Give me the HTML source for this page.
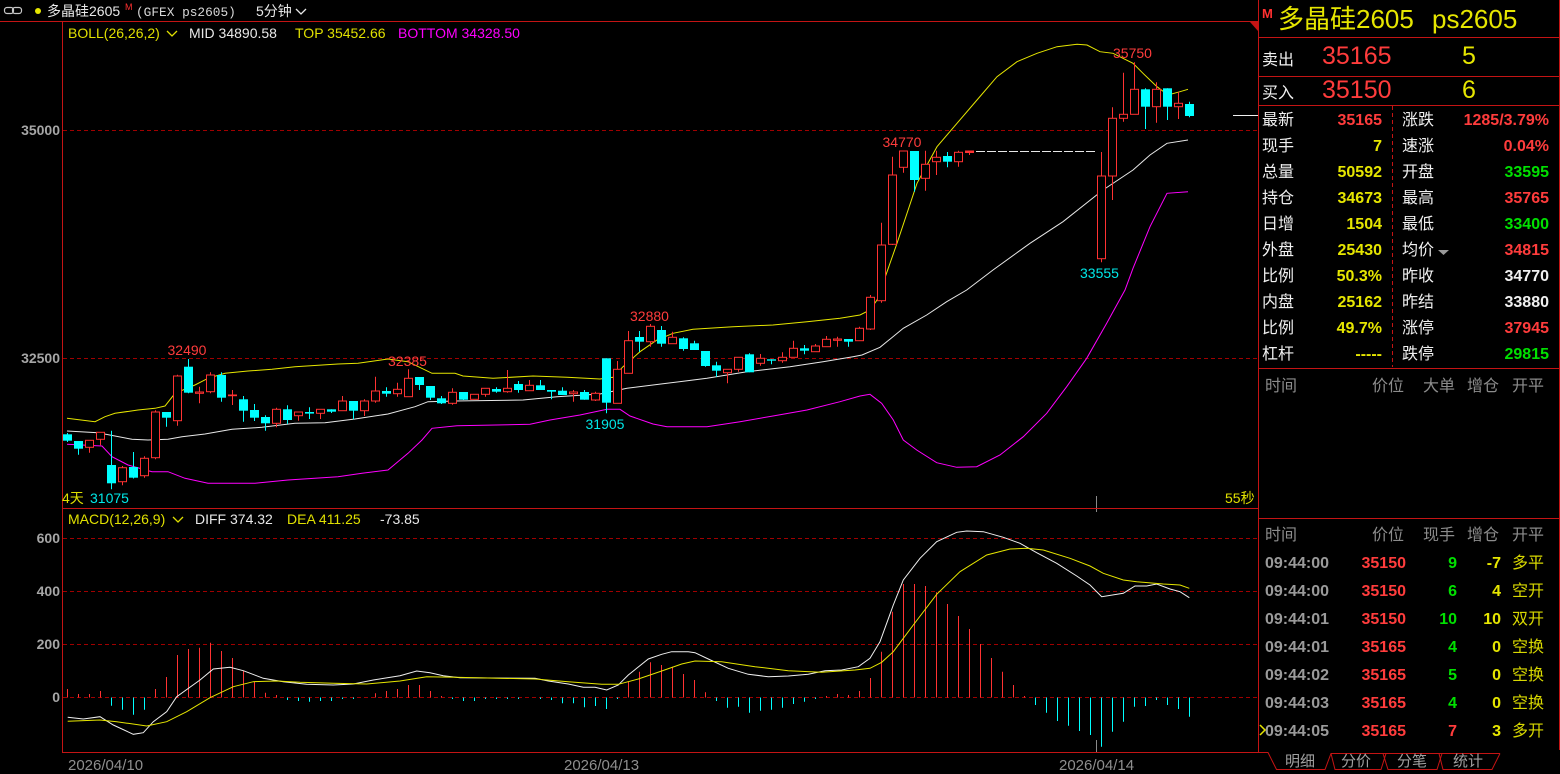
<!DOCTYPE html>
<html><head><meta charset="utf-8">
<style>
html,body{margin:0;padding:0;background:#000;width:1560px;height:774px;overflow:hidden;}
svg{display:block;}
text{font-family:"Liberation Sans","Noto Sans CJK SC",sans-serif;}
.mono{font-family:"Liberation Mono","Noto Sans CJK SC",monospace;}
</style></head><body>
<svg width="1560" height="774" viewBox="0 0 1560 774" xmlns="http://www.w3.org/2000/svg">
<rect width="1560" height="774" fill="#000"/>

<!-- ===== Header ===== -->
<g fill="none" stroke="#c8c8c8" stroke-width="1.2">
<rect x="4.5" y="7.5" width="9" height="6" rx="2.5"/>
<rect x="12.5" y="7.5" width="9" height="6" rx="2.5"/>
</g>
<circle cx="38" cy="11" r="3" fill="#e6e600"/>
<text x="47" y="16" font-size="14" fill="#e8e8e8">多晶硅2605</text>
<text x="125" y="10" font-size="9" fill="#ff3030">M</text>
<text x="136" y="16" font-size="12.8" fill="#d8d8d8" class="mono">(GFEX ps2605)</text>
<text x="256" y="16" font-size="14" fill="#e8e8e8">5分钟</text>
<polyline points="296,9 301,14 306,9" fill="none" stroke="#e8e8e8" stroke-width="1.3"/>

<!-- chart frame -->
<g stroke="#c41414" stroke-width="1" fill="none">
<line x1="0" y1="21.5" x2="1259" y2="21.5"/>
<line x1="62.5" y1="21" x2="62.5" y2="753"/>
<line x1="62" y1="508.5" x2="1259" y2="508.5"/>
<line x1="62" y1="752.5" x2="1259" y2="752.5"/>
<line x1="1258.5" y1="0" x2="1258.5" y2="753"/>
<line x1="1559.5" y1="0" x2="1559.5" y2="750"/>
</g>
<polygon points="1250,22 1258,22 1258,31" fill="#c41414"/>

<!-- grid dashed -->
<g stroke="#a00000" stroke-width="1" stroke-dasharray="4,3">
<line x1="63" y1="130.5" x2="1258" y2="130.5"/>
<line x1="63" y1="358.5" x2="1258" y2="358.5"/>
<line x1="63" y1="538.5" x2="1258" y2="538.5"/>
<line x1="63" y1="591.5" x2="1258" y2="591.5"/>
<line x1="63" y1="644.5" x2="1258" y2="644.5"/>
<line x1="63" y1="697.5" x2="1258" y2="697.5"/>
</g>

<!-- axis labels -->
<g font-size="14" font-weight="bold" fill="#a6a6a6" text-anchor="end">
<text x="60" y="135">35000</text>
<text x="60" y="363">32500</text>
<text x="60" y="543">600</text>
<text x="60" y="596">400</text>
<text x="60" y="649">200</text>
<text x="60" y="702">0</text>
</g>
<g font-size="15" fill="#8e8e8e">
<text x="68" y="770">2026/04/10</text>
<text x="564" y="770">2026/04/13</text>
<text x="1059" y="770">2026/04/14</text>
</g>

<!-- BOLL header -->
<text x="68" y="38" font-size="14" fill="#e0e000">BOLL(26,26,2)</text>
<polyline points="167,31 172,36 177,31" fill="none" stroke="#e0e000" stroke-width="1.3"/>
<text x="189" y="38" font-size="14" fill="#e8e8e8">MID 34890.58</text>
<text x="295" y="38" font-size="14" fill="#e0e000">TOP 35452.66</text>
<text x="398" y="38" font-size="14" fill="#ff00ff">BOTTOM 34328.50</text>

<!-- MACD header -->
<text x="68" y="524" font-size="14" fill="#e0e000">MACD(12,26,9)</text>
<polyline points="173,517 178,522 183,517" fill="none" stroke="#e0e000" stroke-width="1.3"/>
<text x="195" y="524" font-size="14" fill="#e8e8e8">DIFF 374.32</text>
<text x="287" y="524" font-size="14" fill="#e0e000">DEA 411.25</text>
<text x="380" y="524" font-size="14" fill="#e8e8e8">-73.85</text>

<!-- ===== Bollinger ===== -->
<g fill="none" stroke-width="1">
<polyline stroke="#e6e600" points="67,418.3 95,421.7 105,416.7 115,413.3 138,410 155,408.3 165,406 175,393.3 195,385 208,378.3 225,373.3 248,371 272,369.3 295,366.7 338,364 358,363.3 388,359 408,361.7 432,373.3 455,373.3 463,376 493,378.3 533,376 567,377.3 600,379 613,377.3 623,366.7 640,351.7 657,340 673,333.3 693,329.3 733,326.7 773,325 807,321.7 840,318.3 860,315 870,310 877,300 883,283.3 897,243.3 917,183.3 937,146.7 957,123.3 977,100 997,76.7 1017,61.7 1037,53.3 1057,46.7 1077,44.3 1087,45 1100,51.7 1113,53.3 1133,63.3 1143,73.3 1157,86.7 1168,95 1180,91.7 1188,89.3"/>
<polyline stroke="#e8e8e8" points="67,431 98,432.7 132,439.3 148,440 168,439.3 182,436.7 205,434 232,429.3 262,427.3 295,423.3 325,422.7 355,419 388,414 415,406.7 428,401.7 455,401 523,400 557,396.7 600,394 627,388.3 667,383.3 707,378.3 747,371.7 790,366.7 823,361.7 853,356.7 862,355 880,347.3 903.3,328.3 926.7,315 946.7,301.7 966.7,290 993,270 1030,243.3 1063,221.7 1103,190 1133,170 1150,155 1167,143.3 1188,140"/>
<polyline stroke="#ff00ff" points="67,444.3 102,446 112,456.7 128,465 152,471.7 168,471.7 185,478.3 208,483.3 255,483.3 288,480 338,476.7 362,473.3 388,470 408,453.3 422,440 432,428.3 457,425.7 530,424.3 550,420 580,415 607,409.3 620,409.3 630,416 653,424 667,426.7 707,426.7 740,421.7 773,416 807,410 840,401.7 860,396 870,394.3 881.7,403.3 893.3,420 903.3,440 916.7,450 936.7,462.7 956.7,467.3 976.7,466.7 1000,455 1023.3,436.7 1046.7,413.3 1066.7,386.7 1086.7,358.3 1106.7,323.3 1125,290 1133,268.3 1150,226.7 1167,193.3 1188,191.7"/>
</g>

<!-- ===== Candles: red (hollow) ===== -->
<g stroke="#ff3232" stroke-width="1" fill="#000">
<line x1="89.5" y1="440.3" x2="89.5" y2="452.7"/><rect x="85.5" y="440.3" width="8" height="7"/>
<line x1="100.5" y1="432.3" x2="100.5" y2="445.3"/><rect x="96.5" y="432.3" width="8" height="7"/>
<line x1="122.5" y1="466" x2="122.5" y2="485.3"/><rect x="118.5" y="467.7" width="8" height="14"/>
<line x1="144.5" y1="456.3" x2="144.5" y2="477.7"/><rect x="140.5" y="458.3" width="8" height="17.4"/>
<line x1="155.5" y1="410.3" x2="155.5" y2="459.3"/><rect x="151.5" y="412" width="8" height="45.7"/>
<line x1="177.5" y1="374.7" x2="177.5" y2="425.7"/><rect x="173.5" y="376" width="8" height="44.7"/>
<line x1="199.5" y1="386.7" x2="199.5" y2="403.3"/><rect x="195.5" y="392" width="8" height="1.3"/>
<line x1="210.5" y1="372.3" x2="210.5" y2="393.3"/><rect x="206.5" y="375" width="8" height="16.7"/>
<line x1="232.5" y1="390" x2="232.5" y2="405"/><rect x="228.5" y="395" width="8" height="0.7"/>
<line x1="276.5" y1="407.7" x2="276.5" y2="427.3"/><rect x="272.5" y="409.3" width="8" height="14"/>
<line x1="298.5" y1="412" x2="298.5" y2="420.7"/><rect x="294.5" y="412" width="8" height="3.7"/>
<line x1="320.5" y1="409.3" x2="320.5" y2="419"/><rect x="316.5" y="409.3" width="8" height="4"/>
<line x1="342.5" y1="396" x2="342.5" y2="410.7"/><rect x="338.5" y="401" width="8" height="9.7"/>
<line x1="364.5" y1="399.3" x2="364.5" y2="416"/><rect x="360.5" y="401" width="8" height="9.7"/>
<line x1="375.5" y1="376.7" x2="375.5" y2="402.7"/><rect x="371.5" y="391" width="8" height="10"/>
<line x1="397.5" y1="382.7" x2="397.5" y2="396.7"/><rect x="393.5" y="389.3" width="8" height="4.4"/>
<line x1="408.5" y1="369.3" x2="408.5" y2="396.7"/><rect x="404.5" y="378.3" width="8" height="18.4"/>
<line x1="452.5" y1="388.3" x2="452.5" y2="404.7"/><rect x="448.5" y="392.3" width="8" height="11"/>
<line x1="474.5" y1="394.3" x2="474.5" y2="399.3"/><rect x="470.5" y="394.3" width="8" height="5"/>
<line x1="485.5" y1="388.3" x2="485.5" y2="396.7"/><rect x="481.5" y="388.3" width="8" height="6"/>
<line x1="507.5" y1="370" x2="507.5" y2="392.7"/><rect x="503.5" y="388.3" width="8" height="3.4"/>
<line x1="529.5" y1="380" x2="529.5" y2="390.7"/><rect x="525.5" y="385.3" width="8" height="5.4"/>
<line x1="573.5" y1="390" x2="573.5" y2="401.7"/><rect x="569.5" y="392" width="8" height="1.7"/>
<line x1="595.5" y1="391.7" x2="595.5" y2="401"/><rect x="591.5" y="393.3" width="8" height="6.7"/>
<line x1="617.5" y1="361" x2="617.5" y2="403.3"/><rect x="613.5" y="369.3" width="8" height="34"/>
<line x1="628.5" y1="331" x2="628.5" y2="373.3"/><rect x="624.5" y="340.7" width="8" height="32.6"/>
<line x1="650.5" y1="324" x2="650.5" y2="346.7"/><rect x="646.5" y="326.3" width="8" height="15.4"/>
<line x1="672.5" y1="331.7" x2="672.5" y2="343.7"/><rect x="668.5" y="337.3" width="8" height="6.4"/>
<line x1="727.5" y1="369.3" x2="727.5" y2="383.3"/><rect x="723.5" y="369.3" width="8" height="3.4"/>
<line x1="738.5" y1="357.3" x2="738.5" y2="371.7"/><rect x="734.5" y="357.3" width="8" height="12"/>
<line x1="760.5" y1="354" x2="760.5" y2="365.7"/><rect x="756.5" y="358.3" width="8" height="5"/>
<line x1="782.5" y1="352.3" x2="782.5" y2="362.7"/><rect x="778.5" y="357.3" width="8" height="3.4"/>
<line x1="793.5" y1="340.7" x2="793.5" y2="357.3"/><rect x="789.5" y="348.3" width="8" height="9"/>
<line x1="815.5" y1="344" x2="815.5" y2="351.7"/><rect x="811.5" y="346" width="8" height="5.7"/>
<line x1="826.5" y1="336" x2="826.5" y2="346.7"/><rect x="822.5" y="339.3" width="8" height="7.4"/>
<line x1="837.5" y1="336.7" x2="837.5" y2="346.7"/><rect x="833.5" y="339" width="8" height="1.3"/>
<line x1="859.5" y1="326.7" x2="859.5" y2="340.7"/><rect x="855.5" y="328.3" width="8" height="12.4"/>
<line x1="870.5" y1="295" x2="870.5" y2="330"/><rect x="866.5" y="297.3" width="8" height="31.7"/>
<line x1="881.5" y1="222.7" x2="881.5" y2="302.7"/><rect x="877.5" y="245" width="8" height="55.7"/>
<line x1="892.5" y1="156.7" x2="892.5" y2="245"/><rect x="888.5" y="175" width="8" height="69.3"/>
<line x1="903.5" y1="151" x2="903.5" y2="172.7"/><rect x="899.5" y="151" width="8" height="16.3"/>
<line x1="925.5" y1="150.7" x2="925.5" y2="190.7"/><rect x="921.5" y="164.3" width="8" height="14"/>
<line x1="936.5" y1="150.7" x2="936.5" y2="175"/><rect x="932.5" y="157.3" width="8" height="4.4"/>
<line x1="958.5" y1="150.7" x2="958.5" y2="166.7"/><rect x="954.5" y="152.3" width="8" height="9.4"/>
<line x1="969.5" y1="151" x2="969.5" y2="155"/><rect x="965.5" y="151" width="8" height="1.5" fill="#ff3232"/>
<line x1="1101.5" y1="152" x2="1101.5" y2="262.3"/><rect x="1097.5" y="176" width="8" height="82.7"/>
<line x1="1112.5" y1="107.3" x2="1112.5" y2="200"/><rect x="1108.5" y="118.3" width="8" height="57.7"/>
<line x1="1123.5" y1="72.7" x2="1123.5" y2="121.7"/><rect x="1119.5" y="114.3" width="8" height="4"/>
<line x1="1134.5" y1="62.3" x2="1134.5" y2="114.3"/><rect x="1130.5" y="89.3" width="8" height="25"/>
<line x1="1156.5" y1="82.3" x2="1156.5" y2="122.7"/><rect x="1152.5" y="89.3" width="8" height="17.4"/>
<line x1="1178.5" y1="91.7" x2="1178.5" y2="119"/><rect x="1174.5" y="103.3" width="8" height="3.4"/>
</g>

<!-- ===== Candles: cyan (filled) ===== -->
<g stroke="#00ffff" stroke-width="1" fill="#00ffff">
<line x1="67.5" y1="433" x2="67.5" y2="442"/><rect x="63" y="434.3" width="9" height="6.4" stroke="none"/>
<line x1="78.5" y1="441" x2="78.5" y2="454.7"/><rect x="74" y="441" width="9" height="7.7" stroke="none"/>
<line x1="111.5" y1="430.7" x2="111.5" y2="489.3"/><rect x="107" y="465" width="9" height="18.3" stroke="none"/>
<line x1="133.5" y1="452" x2="133.5" y2="478.5"/><rect x="129" y="467" width="9" height="10.7" stroke="none"/>
<line x1="166.5" y1="412" x2="166.5" y2="426.7"/><rect x="162" y="412" width="9" height="5.7" stroke="none"/>
<line x1="188.5" y1="359" x2="188.5" y2="393.3"/><rect x="184" y="366.7" width="9" height="26" stroke="none"/>
<line x1="221.5" y1="372.3" x2="221.5" y2="401.7"/><rect x="217" y="375" width="9" height="22.7" stroke="none"/>
<line x1="243.5" y1="396" x2="243.5" y2="421.7"/><rect x="239" y="399.3" width="9" height="11.4" stroke="none"/>
<line x1="254.5" y1="404" x2="254.5" y2="421"/><rect x="250" y="410" width="9" height="7.7" stroke="none"/>
<line x1="265.5" y1="415.3" x2="265.5" y2="430.7"/><rect x="261" y="417" width="9" height="6.3" stroke="none"/>
<line x1="287.5" y1="405.3" x2="287.5" y2="424"/><rect x="283" y="409.3" width="9" height="10.7" stroke="none"/>
<line x1="309.5" y1="407.3" x2="309.5" y2="419"/><rect x="305" y="412" width="9" height="1.6" stroke="none"/>
<line x1="331.5" y1="409.3" x2="331.5" y2="413"/><rect x="327" y="409.3" width="9" height="2.4" stroke="none"/>
<line x1="353.5" y1="401" x2="353.5" y2="419.3"/><rect x="349" y="401" width="9" height="9.7" stroke="none"/>
<line x1="386.5" y1="387.3" x2="386.5" y2="396.7"/><rect x="382" y="391" width="9" height="2.7" stroke="none"/>
<line x1="419.5" y1="377" x2="419.5" y2="390"/><rect x="415" y="377" width="9" height="8" stroke="none"/>
<line x1="430.5" y1="386" x2="430.5" y2="400"/><rect x="426" y="386" width="9" height="11.7" stroke="none"/>
<line x1="441.5" y1="396" x2="441.5" y2="404"/><rect x="437" y="398.3" width="9" height="5" stroke="none"/>
<line x1="463.5" y1="392" x2="463.5" y2="400"/><rect x="459" y="392" width="9" height="7.7" stroke="none"/>
<line x1="496.5" y1="387.3" x2="496.5" y2="392.7"/><rect x="492" y="389" width="9" height="2.7" stroke="none"/>
<line x1="518.5" y1="381" x2="518.5" y2="392.7"/><rect x="514" y="384" width="9" height="6" stroke="none"/>
<line x1="540.5" y1="380" x2="540.5" y2="390"/><rect x="536" y="385.3" width="9" height="4.7" stroke="none"/>
<line x1="551.5" y1="390" x2="551.5" y2="399.3"/><rect x="547" y="390" width="9" height="1.7" stroke="none"/>
<line x1="562.5" y1="387.3" x2="562.5" y2="395"/><rect x="558" y="390.7" width="9" height="4.3" stroke="none"/>
<line x1="584.5" y1="390" x2="584.5" y2="399.7"/><rect x="580" y="392" width="9" height="7.7" stroke="none"/>
<line x1="606.5" y1="358.3" x2="606.5" y2="413.3"/><rect x="602" y="358.3" width="9" height="44.4" stroke="none"/>
<line x1="639.5" y1="331" x2="639.5" y2="351.7"/><rect x="635" y="337" width="9" height="4.7" stroke="none"/>
<line x1="661.5" y1="326" x2="661.5" y2="346.7"/><rect x="657" y="330" width="9" height="13.7" stroke="none"/>
<line x1="683.5" y1="337.3" x2="683.5" y2="350.7"/><rect x="679" y="338.3" width="9" height="10.7" stroke="none"/>
<line x1="694.5" y1="340.7" x2="694.5" y2="350"/><rect x="690" y="343.3" width="9" height="6.7" stroke="none"/>
<line x1="705.5" y1="351" x2="705.5" y2="366.7"/><rect x="701" y="351" width="9" height="15" stroke="none"/>
<line x1="716.5" y1="361.7" x2="716.5" y2="376.7"/><rect x="712" y="365.3" width="9" height="5.4" stroke="none"/>
<line x1="749.5" y1="353.3" x2="749.5" y2="372.3"/><rect x="745" y="354.3" width="9" height="18" stroke="none"/>
<line x1="771.5" y1="359.3" x2="771.5" y2="364.3"/><rect x="767" y="359.3" width="9" height="1.4" stroke="none"/>
<line x1="804.5" y1="345" x2="804.5" y2="354.3"/><rect x="800" y="348.3" width="9" height="2.4" stroke="none"/>
<line x1="848.5" y1="339" x2="848.5" y2="346.7"/><rect x="844" y="339" width="9" height="2.7" stroke="none"/>
<line x1="914.5" y1="151" x2="914.5" y2="191.7"/><rect x="910" y="151" width="9" height="29" stroke="none"/>
<line x1="947.5" y1="152" x2="947.5" y2="167.3"/><rect x="943" y="156" width="9" height="5.7" stroke="none"/>
<line x1="1145.5" y1="88.3" x2="1145.5" y2="129"/><rect x="1141" y="89.3" width="9" height="17.4" stroke="none"/>
<line x1="1167.5" y1="88.3" x2="1167.5" y2="120"/><rect x="1163" y="88.3" width="9" height="18.4" stroke="none"/>
<line x1="1189.5" y1="101.7" x2="1189.5" y2="117.3"/><rect x="1185" y="104" width="9" height="12" stroke="none"/>
</g>

<!-- limit-locked flat bars -->
<line x1="976" y1="151.5" x2="1095" y2="151.5" stroke="#e8e8e8" stroke-width="1" stroke-dasharray="9,2"/>
<!-- last price marker -->
<line x1="1233" y1="115.5" x2="1258" y2="115.5" stroke="#f0f0f0" stroke-width="1"/>
<!-- day boundary ticks -->
<g stroke="#8a8a8a" stroke-width="1">
<line x1="1096.5" y1="496" x2="1096.5" y2="508"/>
<line x1="1096.5" y1="509" x2="1096.5" y2="512"/>
<line x1="1096.5" y1="740" x2="1096.5" y2="752"/>
</g>

<!-- chart labels -->
<g font-size="14">
<text x="167.5" y="355" fill="#ff3c3c">32490</text>
<text x="388" y="366" fill="#ff3c3c">32385</text>
<text x="630" y="321" fill="#ff3c3c">32880</text>
<text x="585.5" y="429" fill="#00e8e8">31905</text>
<text x="882.5" y="147" fill="#ff3c3c">34770</text>
<text x="1113" y="58" fill="#ff3c3c">35750</text>
<text x="1080" y="278" fill="#00e8e8">33555</text>
<text x="62" y="503" fill="#e0e000">4天</text>
<text x="90" y="503" fill="#00e8e8">31075</text>
<text x="1225" y="503" fill="#e0e000">55秒</text>
</g>

<!-- ===== MACD histogram ===== -->
<g stroke="#ff3232" stroke-width="1">
<line x1="67.5" y1="697.5" x2="67.5" y2="689"/><line x1="78.5" y1="697.5" x2="78.5" y2="694"/><line x1="89.5" y1="697.5" x2="89.5" y2="694"/><line x1="100.5" y1="697.5" x2="100.5" y2="691"/>
<line x1="155.5" y1="697.5" x2="155.5" y2="689"/><line x1="166.5" y1="697.5" x2="166.5" y2="677"/><line x1="177.5" y1="697.5" x2="177.5" y2="655"/><line x1="188.5" y1="697.5" x2="188.5" y2="649"/><line x1="199.5" y1="697.5" x2="199.5" y2="647.7"/><line x1="210.5" y1="697.5" x2="210.5" y2="642.7"/><line x1="221.5" y1="697.5" x2="221.5" y2="651"/><line x1="232.5" y1="697.5" x2="232.5" y2="658"/><line x1="243.5" y1="697.5" x2="243.5" y2="671"/><line x1="254.5" y1="697.5" x2="254.5" y2="681.7"/><line x1="265.5" y1="697.5" x2="265.5" y2="692.7"/><line x1="276.5" y1="697.5" x2="276.5" y2="695"/>
<line x1="375.5" y1="697.5" x2="375.5" y2="693.3"/><line x1="386.5" y1="697.5" x2="386.5" y2="691"/><line x1="397.5" y1="697.5" x2="397.5" y2="689"/><line x1="408.5" y1="697.5" x2="408.5" y2="685"/><line x1="419.5" y1="697.5" x2="419.5" y2="685"/><line x1="430.5" y1="697.5" x2="430.5" y2="691"/><line x1="441.5" y1="697.5" x2="441.5" y2="696"/>
<line x1="628.5" y1="697.5" x2="628.5" y2="681.7"/><line x1="639.5" y1="697.5" x2="639.5" y2="671.7"/><line x1="650.5" y1="697.5" x2="650.5" y2="662.3"/><line x1="661.5" y1="697.5" x2="661.5" y2="665"/><line x1="672.5" y1="697.5" x2="672.5" y2="666.7"/><line x1="683.5" y1="697.5" x2="683.5" y2="674"/><line x1="694.5" y1="697.5" x2="694.5" y2="680"/><line x1="705.5" y1="697.5" x2="705.5" y2="692.3"/>
<line x1="826.5" y1="697.5" x2="826.5" y2="696"/><line x1="837.5" y1="697.5" x2="837.5" y2="694"/><line x1="848.5" y1="697.5" x2="848.5" y2="695"/><line x1="859.5" y1="697.5" x2="859.5" y2="691"/><line x1="870.5" y1="697.5" x2="870.5" y2="678"/><line x1="881.5" y1="697.5" x2="881.5" y2="651.7"/><line x1="892.5" y1="697.5" x2="892.5" y2="611.7"/><line x1="903.5" y1="697.5" x2="903.5" y2="584"/><line x1="914.5" y1="697.5" x2="914.5" y2="584"/><line x1="925.5" y1="697.5" x2="925.5" y2="586"/><line x1="936.5" y1="697.5" x2="936.5" y2="592.3"/><line x1="947.5" y1="697.5" x2="947.5" y2="604"/><line x1="958.5" y1="697.5" x2="958.5" y2="616"/><line x1="969.5" y1="697.5" x2="969.5" y2="629"/><line x1="980.5" y1="697.5" x2="980.5" y2="644"/><line x1="991.5" y1="697.5" x2="991.5" y2="658"/><line x1="1002.5" y1="697.5" x2="1002.5" y2="671.7"/><line x1="1013.5" y1="697.5" x2="1013.5" y2="685"/><line x1="1024.5" y1="697.5" x2="1024.5" y2="696"/>
</g>
<g stroke="#00ffff" stroke-width="1">
<line x1="111.5" y1="697.5" x2="111.5" y2="705.7"/><line x1="122.5" y1="697.5" x2="122.5" y2="709.7"/><line x1="133.5" y1="697.5" x2="133.5" y2="714.7"/><line x1="144.5" y1="697.5" x2="144.5" y2="709.7"/>
<line x1="287.5" y1="697.5" x2="287.5" y2="700"/><line x1="298.5" y1="697.5" x2="298.5" y2="701"/><line x1="309.5" y1="697.5" x2="309.5" y2="701.7"/><line x1="320.5" y1="697.5" x2="320.5" y2="701"/><line x1="331.5" y1="697.5" x2="331.5" y2="701"/><line x1="342.5" y1="697.5" x2="342.5" y2="699"/><line x1="353.5" y1="697.5" x2="353.5" y2="699"/>
<line x1="452.5" y1="697.5" x2="452.5" y2="699"/><line x1="463.5" y1="697.5" x2="463.5" y2="701"/><line x1="474.5" y1="697.5" x2="474.5" y2="701"/><line x1="485.5" y1="697.5" x2="485.5" y2="699"/><line x1="496.5" y1="697.5" x2="496.5" y2="699"/><line x1="507.5" y1="697.5" x2="507.5" y2="699"/><line x1="518.5" y1="697.5" x2="518.5" y2="699"/><line x1="540.5" y1="697.5" x2="540.5" y2="699"/><line x1="551.5" y1="697.5" x2="551.5" y2="700"/><line x1="562.5" y1="697.5" x2="562.5" y2="703.3"/><line x1="573.5" y1="697.5" x2="573.5" y2="703.3"/><line x1="584.5" y1="697.5" x2="584.5" y2="707.3"/><line x1="595.5" y1="697.5" x2="595.5" y2="706"/><line x1="606.5" y1="697.5" x2="606.5" y2="709"/><line x1="617.5" y1="697.5" x2="617.5" y2="699"/>
<line x1="716.5" y1="697.5" x2="716.5" y2="701"/><line x1="727.5" y1="697.5" x2="727.5" y2="707.7"/><line x1="738.5" y1="697.5" x2="738.5" y2="706.7"/><line x1="749.5" y1="697.5" x2="749.5" y2="712.7"/><line x1="760.5" y1="697.5" x2="760.5" y2="710.7"/><line x1="771.5" y1="697.5" x2="771.5" y2="709.7"/><line x1="782.5" y1="697.5" x2="782.5" y2="707.7"/><line x1="793.5" y1="697.5" x2="793.5" y2="704"/><line x1="804.5" y1="697.5" x2="804.5" y2="701.7"/><line x1="815.5" y1="697.5" x2="815.5" y2="699"/>
<line x1="1035.5" y1="697.5" x2="1035.5" y2="705"/><line x1="1046.5" y1="697.5" x2="1046.5" y2="712.7"/><line x1="1057.5" y1="697.5" x2="1057.5" y2="721"/><line x1="1068.5" y1="697.5" x2="1068.5" y2="725.7"/><line x1="1079.5" y1="697.5" x2="1079.5" y2="731"/><line x1="1090.5" y1="697.5" x2="1090.5" y2="735"/><line x1="1101.5" y1="697.5" x2="1101.5" y2="746.7"/><line x1="1112.5" y1="697.5" x2="1112.5" y2="731.7"/><line x1="1123.5" y1="697.5" x2="1123.5" y2="721.7"/><line x1="1134.5" y1="697.5" x2="1134.5" y2="706.7"/><line x1="1145.5" y1="697.5" x2="1145.5" y2="706"/><line x1="1156.5" y1="697.5" x2="1156.5" y2="700"/><line x1="1167.5" y1="697.5" x2="1167.5" y2="705"/><line x1="1178.5" y1="697.5" x2="1178.5" y2="709"/><line x1="1189.5" y1="697.5" x2="1189.5" y2="716.7"/>
</g>

<!-- MACD lines -->
<g fill="none" stroke-width="1">
<polyline stroke="#f0f0f0" points="67.7,717.3 83.3,719 100,716.7 113.3,725 133.3,734.3 143.3,732.7 153.3,721.7 166.7,711.7 176.7,696.7 200,680 213.3,669 230,667.3 243.3,670.7 263.3,678.3 283.3,681.7 306.7,684.3 333.3,685 353.3,684 373.3,680 400,675.7 416.7,671 430,672.7 443.3,675.7 460,677.7 535,678.3 548.3,681 568.3,684 583.3,687.3 595,687.3 606.7,690 618.3,685 628.3,675 648.3,659 661.7,654.3 671.7,651.7 688.3,651.7 695,652.7 708.3,659 728.3,668.3 748.3,674.3 768.3,676.7 788.3,676 808.3,674.3 825,670.7 841.7,670 858.3,666.7 870,658.3 880,641.7 893.3,605 903.3,580 920,558.3 936.7,541.7 956.7,532.3 966.7,531 983.3,531.7 1003.3,537.3 1020,543.3 1036.7,552.7 1056.7,563.3 1076.7,576 1090,585 1101.7,596.7 1123.3,593.3 1135,586 1146.7,586 1156.7,584 1170,589 1180,591.7 1189.3,597.7"/>
<polyline stroke="#e6e600" points="67.7,721.3 100,720 116.7,721.7 146.7,726 166.7,721.7 186.7,711.7 210,697.7 233.3,686.7 253.3,681.7 276.7,681 300,682.3 333.3,683.3 366.7,684 400,681 426.7,676.7 455,677.3 535,679 568.3,681.7 601.7,684.3 618.3,684.3 638.3,679 661.7,671 681.7,664 695,661 721.7,661.7 755,666.7 788.3,670.7 821.7,672.3 855,670 870,668.3 881.7,662.3 893.3,651.7 913.3,625 936.7,594.3 960,571.7 986.7,555 1010,549 1026.7,548.3 1043.3,550 1070,558.3 1090,566 1103.3,573.3 1123.3,580 1136.7,581.7 1163.3,584 1180,585 1189.3,588.3"/>
</g>

<!-- ===== Right panel ===== -->
<g stroke="#c41414" stroke-width="1" fill="none">
<line x1="1258" y1="37.5" x2="1560" y2="37.5"/>
<line x1="1258" y1="76.5" x2="1560" y2="76.5"/>
<line x1="1258" y1="105.5" x2="1560" y2="105.5"/>
<line x1="1258" y1="368.5" x2="1560" y2="368.5"/>
<line x1="1258" y1="518.5" x2="1560" y2="518.5"/>
<line x1="1392.5" y1="106" x2="1392.5" y2="367" stroke-dasharray="4,3"/>
<polyline points="1258,752.5 1268,752.5 1276.5,769.5 1325,769.5 1331,753.5 1500,753.5"/>
<polyline points="1331,753.5 1335,769.5 1381,769.5 1386,753.5"/>
<polyline points="1383,753.5 1388,769.5 1437,769.5 1442,753.5"/>
<polyline points="1439,753.5 1443,769.5 1492,769.5 1500,753.5"/>
</g>

<text x="1262" y="18" font-size="13" font-weight="bold" fill="#ff3030">M</text>
<text x="1278" y="28" font-size="26" fill="#e6e600">多晶硅2605</text>
<text x="1432" y="28" font-size="26" fill="#e6e600">ps2605</text>

<text x="1262" y="65" font-size="16" fill="#f0f0f0">卖出</text>
<text x="1322" y="64" font-size="25" fill="#ff3c3c">35165</text>
<text x="1462" y="64" font-size="25" fill="#e6e600">5</text>
<text x="1262" y="98" font-size="16" fill="#f0f0f0">买入</text>
<text x="1322" y="98" font-size="25" fill="#ff3c3c">35150</text>
<text x="1462" y="98" font-size="25" fill="#e6e600">6</text>

<g font-size="16" fill="#f0f0f0">
<text x="1262" y="125">最新</text><text x="1402" y="125">涨跌</text>
<text x="1262" y="151">现手</text><text x="1402" y="151">速涨</text>
<text x="1262" y="177">总量</text><text x="1402" y="177">开盘</text>
<text x="1262" y="203">持仓</text><text x="1402" y="203">最高</text>
<text x="1262" y="229">日增</text><text x="1402" y="229">最低</text>
<text x="1262" y="255">外盘</text><text x="1402" y="255">均价</text>
<text x="1262" y="281">比例</text><text x="1402" y="281">昨收</text>
<text x="1262" y="307">内盘</text><text x="1402" y="307">昨结</text>
<text x="1262" y="333">比例</text><text x="1402" y="333">涨停</text>
<text x="1262" y="359">杠杆</text><text x="1402" y="359">跌停</text>
</g>
<polygon points="1438,250 1449,250 1443.5,255" fill="#9a9a9a"/>
<g font-size="16" font-weight="bold" text-anchor="end">
<text x="1382" y="125" fill="#ff3c3c">35165</text><text x="1549" y="125" fill="#ff3c3c">1285/3.79%</text>
<text x="1382" y="151" fill="#e6e600">7</text><text x="1549" y="151" fill="#ff3c3c">0.04%</text>
<text x="1382" y="177" fill="#e6e600">50592</text><text x="1549" y="177" fill="#00e000">33595</text>
<text x="1382" y="203" fill="#e6e600">34673</text><text x="1549" y="203" fill="#ff3c3c">35765</text>
<text x="1382" y="229" fill="#e6e600">1504</text><text x="1549" y="229" fill="#00e000">33400</text>
<text x="1382" y="255" fill="#e6e600">25430</text><text x="1549" y="255" fill="#ff3c3c">34815</text>
<text x="1382" y="281" fill="#e6e600">50.3%</text><text x="1549" y="281" fill="#f0f0f0">34770</text>
<text x="1382" y="307" fill="#e6e600">25162</text><text x="1549" y="307" fill="#f0f0f0">33880</text>
<text x="1382" y="333" fill="#e6e600">49.7%</text><text x="1549" y="333" fill="#ff3c3c">37945</text>
<text x="1382" y="359" fill="#e6e600">-----</text><text x="1549" y="359" fill="#00e000">29815</text>
</g>

<g font-size="16" fill="#8c8c8c">
<text x="1265" y="391">时间</text>
<text x="1372" y="391">价位</text>
<text x="1423" y="391">大单</text>
<text x="1467" y="391">增仓</text>
<text x="1512" y="391">开平</text>
<text x="1265" y="540">时间</text>
<text x="1372" y="540">价位</text>
<text x="1423" y="540">现手</text>
<text x="1467" y="540">增仓</text>
<text x="1512" y="540">开平</text>
</g>

<g font-size="16" font-weight="bold">
<g fill="#9a9a9a">
<text x="1265" y="568">09:44:00</text>
<text x="1265" y="596">09:44:00</text>
<text x="1265" y="624">09:44:01</text>
<text x="1265" y="652">09:44:01</text>
<text x="1265" y="680">09:44:02</text>
<text x="1265" y="708">09:44:03</text>
<text x="1265" y="736">09:44:05</text>
</g>
<g fill="#ff3c3c" text-anchor="end">
<text x="1406" y="568">35150</text>
<text x="1406" y="596">35150</text>
<text x="1406" y="624">35150</text>
<text x="1406" y="652">35165</text>
<text x="1406" y="680">35165</text>
<text x="1406" y="708">35165</text>
<text x="1406" y="736">35165</text>
</g>
<g fill="#00e000" text-anchor="end">
<text x="1457" y="568">9</text>
<text x="1457" y="596">6</text>
<text x="1457" y="624">10</text>
<text x="1457" y="652">4</text>
<text x="1457" y="680">5</text>
<text x="1457" y="708">4</text>
<text x="1457" y="736" fill="#ff3c3c">7</text>
</g>
<g fill="#e6e600" text-anchor="end">
<text x="1501" y="568">-7</text>
<text x="1501" y="596">4</text>
<text x="1501" y="624">10</text>
<text x="1501" y="652">0</text>
<text x="1501" y="680">0</text>
<text x="1501" y="708">0</text>
<text x="1501" y="736">3</text>
</g>
</g>
<g font-size="16" fill="#d8d800">
<text x="1512" y="568">多平</text>
<text x="1512" y="596">空开</text>
<text x="1512" y="624">双开</text>
<text x="1512" y="652">空换</text>
<text x="1512" y="680">空换</text>
<text x="1512" y="708">空换</text>
<text x="1512" y="736">多开</text>
</g>
<polyline points="1260,725 1265,730 1260,735" fill="none" stroke="#e6e600" stroke-width="1.5"/>

<g font-size="15" fill="#a0a0a0">
<text x="1285" y="766">明细</text>
<text x="1341" y="766">分价</text>
<text x="1397" y="766">分笔</text>
<text x="1453" y="766">统计</text>
</g>
</svg>
</body></html>
